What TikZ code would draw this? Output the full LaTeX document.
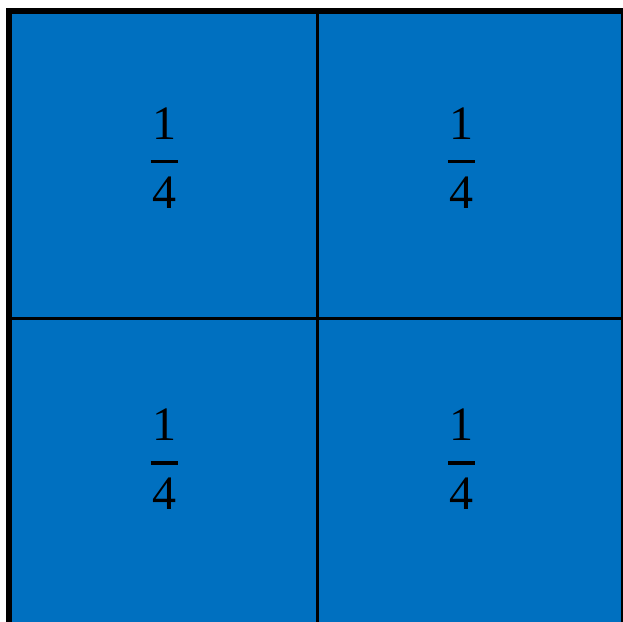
\documentclass[tikz,border=0pt]{standalone}
\usepackage{fontspec}
\setmainfont{Liberation Serif}
\usetikzlibrary{positioning}
\definecolor{cellblue}{HTML}{0070C0}
\tikzset{
  cell/.style={fill=cellblue, draw=none},
  frame/.style={draw=black, line width=6pt},
  divider/.style={draw=black, line width=3.5pt},
  digit/.style={inner sep=0pt, anchor=base, font=\fontsize{48}{58}\selectfont},
  fracbar/.style={line width=3.5pt},
}

\begin{document}
\begin{tikzpicture}[x=1pt, y=-1pt]
  \useasboundingbox (0,0) rectangle (623,621);
  \clip (0,0) rectangle (623,621);

  % ---------- blue square, cut at right and bottom ----------
  \fill[cell] (9,10.5) rectangle (624,640);
  \draw[divider] (317.5,10.5) -- (317.5,640);
  \draw[divider] (9,318.5) -- (624,318.5);
  \draw[frame] (9,640) -- (9,10.5) -- (624,10.5) -- (624,640);

  % ---------- one quarter in each cell ----------
  \foreach \i/\x/\y in {a/164/161.5, b/461.3/161.5, c/164/463, d/461.3/463} {
    \node[digit] (num-\i) at (\x,\y-22.5) {1};
    \node[digit] (den-\i) at (\x,\y+46.5) {4};
    \draw[fracbar] (\x-13.5,\y) -- (\x+13.5,\y);
  }

\end{tikzpicture}
\end{document}
